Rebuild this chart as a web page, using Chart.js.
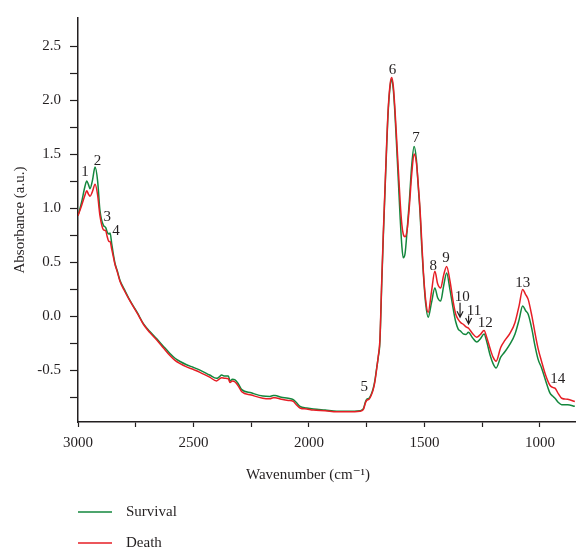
<!DOCTYPE html>
<html>
<head>
<meta charset="utf-8">
<script src="https://cdn.jsdelivr.net/npm/chart.js@4"></script>
<style>
  body { margin: 0; background: #fff; }
</style>
</head>
<body>
<canvas id="myChart" width="576" height="550"></canvas>
<script>
// wavenumbers (cm-1)
var wavenumbers = [3000, 2985, 2970, 2962, 2955, 2948, 2938, 2926, 2915, 2905, 2890, 2880, 2874, 2866, 2861, 2854, 2846, 2840, 2830, 2818,
    2800, 2780, 2761, 2740, 2717, 2690, 2659, 2630, 2602, 2580, 2558, 2530, 2500, 2472, 2430, 2400, 2390, 2378, 2365, 2349,
    2342, 2332, 2320, 2305, 2291, 2250, 2200, 2169, 2155, 2147, 2120, 2090, 2068, 2055, 2039, 2010, 1981, 1930, 1880, 1830,
    1779, 1765, 1755, 1750, 1740, 1730, 1722, 1715, 1707, 1700, 1693, 1685, 1678, 1671, 1664, 1657, 1648, 1642, 1635, 1628,
    1620, 1613, 1605, 1598, 1592, 1584, 1575, 1566, 1555, 1545, 1535, 1527, 1519, 1512, 1505, 1495, 1484, 1470, 1455, 1443,
    1430, 1417, 1404, 1390, 1375, 1365, 1354, 1343, 1332, 1320, 1310, 1292, 1274, 1258, 1242, 1230, 1216, 1203, 1190, 1170,
    1152, 1130, 1108, 1090, 1075, 1062, 1051, 1035, 1022, 1008, 993, 975, 957, 945, 935, 920, 906, 880, 849];

var survival = [0.93, 1.05, 1.20, 1.25, 1.22, 1.18, 1.25, 1.38, 1.25, 0.98, 0.84, 0.82, 0.78, 0.76, 0.77, 0.67, 0.56, 0.49, 0.42, 0.33,
    0.25, 0.165, 0.095, 0.02, -0.07, -0.14, -0.21, -0.28, -0.345, -0.39, -0.42, -0.45, -0.475, -0.50, -0.545, -0.576, -0.565, -0.545, -0.555, -0.555,
    -0.60, -0.585, -0.59, -0.63, -0.68, -0.71, -0.74, -0.743, -0.735, -0.735, -0.75, -0.76, -0.773, -0.80, -0.835, -0.85, -0.86, -0.87, -0.88, -0.88,
    -0.875, -0.86, -0.79, -0.77, -0.76, -0.72, -0.67, -0.60, -0.48, -0.38, -0.24, 0.30, 0.75, 1.15, 1.55, 1.90, 2.14, 2.19, 2.10, 1.88,
    1.55, 1.25, 0.90, 0.65, 0.54, 0.58, 0.80, 1.05, 1.40, 1.57, 1.45, 1.20, 0.95, 0.65, 0.40, 0.12, -0.01, 0.12, 0.26, 0.17,
    0.14, 0.28, 0.40, 0.25, 0.06, -0.05, -0.12, -0.14, -0.165, -0.17, -0.15, -0.20, -0.24, -0.21, -0.165, -0.24, -0.36, -0.44, -0.48, -0.38,
    -0.33, -0.26, -0.165, -0.03, 0.095, 0.05, 0.018, -0.12, -0.27, -0.40, -0.48, -0.60, -0.71, -0.74, -0.76, -0.80, -0.82, -0.82, -0.835];

var death = [0.93, 1.02, 1.12, 1.16, 1.13, 1.11, 1.15, 1.22, 1.12, 0.93, 0.80, 0.79, 0.74, 0.69, 0.69, 0.62, 0.54, 0.48, 0.41, 0.32,
    0.24, 0.16, 0.09, 0.015, -0.075, -0.15, -0.22, -0.295, -0.365, -0.41, -0.44, -0.47, -0.495, -0.52, -0.565, -0.60, -0.585, -0.57, -0.575, -0.58,
    -0.615, -0.60, -0.61, -0.65, -0.70, -0.73, -0.76, -0.765, -0.755, -0.755, -0.77, -0.78, -0.79, -0.82, -0.85, -0.86, -0.87, -0.875, -0.885, -0.885,
    -0.88, -0.865, -0.80, -0.78, -0.77, -0.73, -0.68, -0.61, -0.49, -0.37, -0.22, 0.33, 0.78, 1.18, 1.58, 1.92, 2.16, 2.21, 2.13, 1.92,
    1.62, 1.35, 1.05, 0.85, 0.76, 0.735, 0.80, 1.00, 1.32, 1.50, 1.42, 1.22, 0.98, 0.70, 0.42, 0.15, 0.034, 0.22, 0.415, 0.30,
    0.26, 0.38, 0.46, 0.33, 0.125, 0.02, -0.03, -0.06, -0.075, -0.10, -0.11, -0.16, -0.195, -0.17, -0.134, -0.20, -0.30, -0.38, -0.417, -0.29,
    -0.225, -0.16, -0.058, 0.10, 0.247, 0.20, 0.155, 0.00, -0.15, -0.30, -0.42, -0.55, -0.64, -0.66, -0.667, -0.72, -0.76, -0.77, -0.79];

// peak numbers: label, wavenumber, absorbance where the number sits
var peakNames = ['1', '2', '3', '4', '5', '6', '7', '8', '9', '10', '11', '12', '13', '14'];
var peakWave = [2970, 2916, 2873, 2836, 1761, 1638, 1537, 1462, 1407, 1336, 1286, 1237, 1075, 923];
var peakAbs = [1.33, 1.44, 0.92, 0.79, -0.66, 2.28, 1.65, 0.46, 0.54, 0.18, 0.05, -0.06, 0.31, -0.58];

// small arrows under 10 and 11: wavenumber, from, to
var arrowWave = [1346, 1309];
var arrowFrom = [0.125, 0.006];
var arrowTo = [-0.01, -0.073];

var GREEN = '#13873d';
var RED = '#e61e25';
var INK = '#231f20';
var SERIF = "'Liberation Serif', 'DejaVu Serif', serif";

function toPoints(ys) {
    var pts = [];
    for (var i = 0; i < wavenumbers.length; i++) {
        pts.push({ x: wavenumbers[i], y: ys[i] });
    }
    return pts;
}

// numbers and arrows over the spectra
var peakLabelPlugin = {
    id: 'peakLabels',
    afterDatasetsDraw: function(chart) {
        var ctx = chart.ctx;
        var xs = chart.scales.x, ys = chart.scales.y;
        ctx.save();
        ctx.fillStyle = INK;
        ctx.font = '15px ' + SERIF;
        ctx.textAlign = 'center';
        ctx.textBaseline = 'middle';
        for (var i = 0; i < peakNames.length; i++) {
            ctx.fillText(peakNames[i], xs.getPixelForValue(peakWave[i]), ys.getPixelForValue(peakAbs[i]));
        }
        ctx.strokeStyle = INK;
        ctx.lineWidth = 1.2;
        for (var j = 0; j < arrowWave.length; j++) {
            var ax = xs.getPixelForValue(arrowWave[j]);
            var y0 = ys.getPixelForValue(arrowFrom[j]);
            var y1 = ys.getPixelForValue(arrowTo[j]);
            ctx.beginPath();
            ctx.moveTo(ax, y0);
            ctx.lineTo(ax, y1);
            ctx.moveTo(ax - 3, y1 - 6);
            ctx.lineTo(ax, y1);
            ctx.lineTo(ax + 3, y1 - 6);
            ctx.stroke();
        }
        ctx.restore();
    }
};

// x title (sits a bit left of centre in the original) and legend stacked under the chart
var bottomTextPlugin = {
    id: 'bottomText',
    afterDraw: function(chart) {
        var ctx = chart.ctx;
        var left = chart.chartArea.left;
        var rows = [512, 543];
        ctx.save();
        ctx.font = '15px ' + SERIF;
        ctx.fillStyle = INK;
        ctx.textBaseline = 'middle';
        ctx.textAlign = 'center';
        ctx.fillText('Wavenumber (cm\u207B\u00B9)', 308, 475);
        ctx.textAlign = 'left';
        chart.data.datasets.forEach(function(ds, i) {
            ctx.strokeStyle = ds.borderColor;
            ctx.lineWidth = 1.5;
            ctx.beginPath();
            ctx.moveTo(left, rows[i]);
            ctx.lineTo(left + 34, rows[i]);
            ctx.stroke();
            ctx.fillStyle = INK;
            ctx.fillText(ds.label, left + 48, rows[i]);
        });
        ctx.restore();
    }
};

var ctx = document.getElementById('myChart');
var myChart = new Chart(ctx, {
    type: 'line',
    data: {
        datasets: [{
            label: 'Survival',
            data: toPoints(survival),
            borderColor: GREEN,
            borderWidth: 1.5,
            pointRadius: 0,
            cubicInterpolationMode: 'monotone',
            order: 1
        }, {
            label: 'Death',
            data: toPoints(death),
            borderColor: RED,
            borderWidth: 1.5,
            pointRadius: 0,
            cubicInterpolationMode: 'monotone',
            order: 0
        }]
    },
    options: {
        responsive: false,
        animation: false,
        layout: { padding: { top: 13, right: 0, left: 0, bottom: 66 } },
        plugins: {
            legend: { display: false },
            tooltip: { enabled: false }
        },
        scales: {
            x: {
                type: 'linear',
                reverse: true,
                min: 844,
                max: 3000,
                afterFit: function(scale) { scale.height = 62; },
                afterBuildTicks: function(scale) {
                    var t = [];
                    for (var v = 1000; v <= 3000; v += 250) t.push({ value: v });
                    scale.ticks = t;
                },
                border: { display: true, color: INK, width: 1.5 },
                grid: { drawOnChartArea: false, drawTicks: true, tickLength: 5, color: INK, tickWidth: 1.2 },
                ticks: {
                    color: INK,
                    font: { family: SERIF, size: 15 },
                    padding: 7,
                    maxRotation: 0,
                    callback: function(v) { return v % 500 === 0 ? String(v) : ''; }
                }
            },
            y: {
                min: -0.98,
                max: 2.76,
                afterFit: function(scale) { scale.width = 78; },
                afterBuildTicks: function(scale) {
                    var t = [];
                    for (var k = -3; k <= 10; k++) t.push({ value: k * 0.25 });
                    scale.ticks = t;
                },
                border: { display: true, color: INK, width: 1.5 },
                grid: { drawOnChartArea: false, drawTicks: true, tickLength: 8, color: INK, tickWidth: 1.2 },
                ticks: {
                    color: INK,
                    font: { family: SERIF, size: 15 },
                    padding: 9,
                    callback: function(v) {
                        var k = Math.round(v * 4);
                        return k % 2 === 0 ? v.toFixed(1) : '';
                    }
                },
                title: {
                    display: true,
                    text: 'Absorbance (a.u.)',
                    color: INK,
                    font: { family: SERIF, size: 15 },
                    padding: { top: 11, bottom: 0 }
                }
            }
        }
    },
    plugins: [peakLabelPlugin, bottomTextPlugin]
});
</script>
</body>
</html>
